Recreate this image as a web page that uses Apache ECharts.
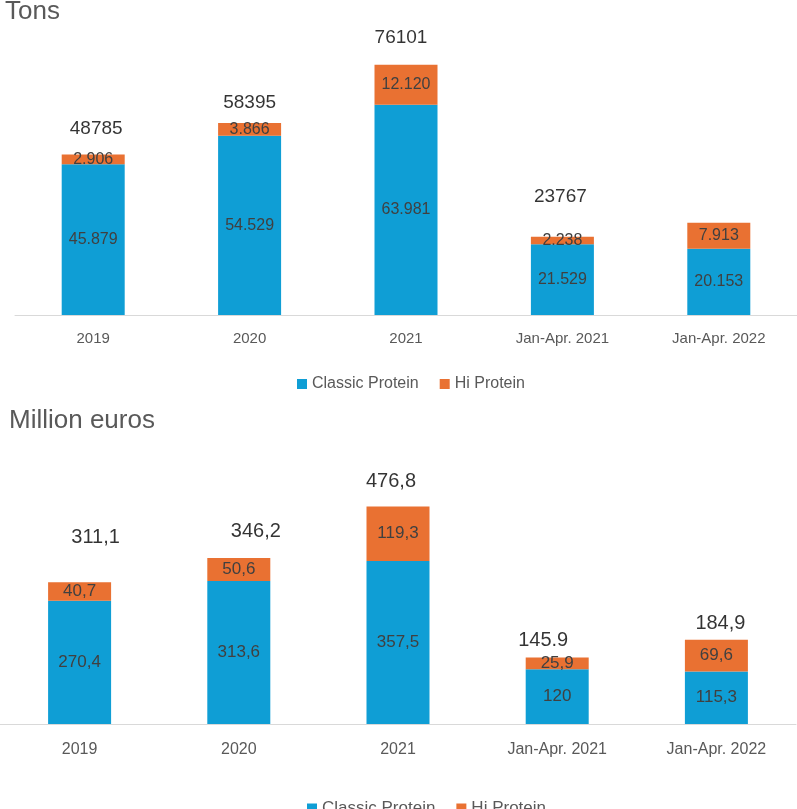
<!DOCTYPE html>
<html><head><meta charset="utf-8">
<script src="https://cdn.jsdelivr.net/npm/echarts@6/dist/echarts.min.js"></script>
<style>html,body{margin:0;padding:0;background:#fff}#c{width:797px;height:809px}</style>
</head><body><div id="c"></div>
<script>
// ---- data ----
const categories = ['2019', '2020', '2021', 'Jan-Apr. 2021', 'Jan-Apr. 2022'];
const seriesNames = ['Classic Protein', 'Hi Protein'];
const tonsClassic = [45879, 54529, 63981, 21529, 20153];
const tonsHi = [2906, 3866, 12120, 2238, 7913];
const tonsTotalLabels = ['48785', '58395', '76101', '23767', ''];
const eurosClassic = [270.4, 313.6, 357.5, 120, 115.3];
const eurosHi = [40.7, 50.6, 119.3, 25.9, 69.6];
const eurosTotalLabels = ['311,1', '346,2', '476,8', '145.9', '184,9'];

// ---- style ----
const BLUE = '#0F9ED5', ORANGE = '#E97132';
const FONT = '"Liberation Sans", Arial, sans-serif';
const tonsTotalOffsets = [[3, -26], [0, -20], [-5, -27], [-2, -40], [0, 0]];
const eurosTotalOffsets = [[16, -45], [17, -26], [-7, -25], [-14, -17], [4, -16]];

function fmtTons(v) { return String(v).replace(/\B(?=(\d{3})+(?!\d))/g, '.'); }
function fmtEuros(v) { return String(v).replace('.', ','); }

function barSeries(name, data, idx, fmt, fs) {
  return {
    type: 'bar', name: name, data: data, stack: 's' + idx,
    xAxisIndex: idx, yAxisIndex: idx, barWidth: 63,
    itemStyle: { color: name === seriesNames[0] ? BLUE : ORANGE },
    label: { show: true, position: 'inside', color: '#404040', fontSize: fs, fontFamily: FONT,
      formatter: p => fmt(p.value) },
    emphasis: { disabled: true }
  };
}
function totalSeries(a, b, labels, offsets, idx, fs) {
  return {
    type: 'scatter', xAxisIndex: idx, yAxisIndex: idx, symbolSize: 0, silent: true,
    data: a.map((v, i) => ({
      value: v + b[i],
      label: { show: labels[i] !== '', formatter: labels[i], offset: offsets[i] }
    })),
    label: { position: 'inside', color: '#000', fontSize: fs, fontFamily: FONT },
    emphasis: { disabled: true }
  };
}
const axisLabel = fs => ({ color: '#595959', fontSize: fs, fontFamily: FONT });

const option = {
  animation: false,
  title: [
    { text: 'Tons', left: 0, top: -6, textStyle: { color: '#595959', fontSize: 26, fontWeight: 'normal', fontFamily: FONT } },
    { text: 'Million euros', left: 4, top: 403, textStyle: { color: '#595959', fontSize: 26, fontWeight: 'normal', fontFamily: FONT } }
  ],
  legend: [
    { data: seriesNames, left: 292, top: 371, icon: 'rect', itemWidth: 10, itemHeight: 10, itemGap: 21,
      textStyle: { color: '#595959', fontSize: 16, fontFamily: FONT } },
    { data: seriesNames, left: 302, top: 795, icon: 'rect', itemWidth: 10, itemHeight: 10, itemGap: 21,
      textStyle: { color: '#595959', fontSize: 17, fontFamily: FONT } }
  ],
  grid: [
    { left: 15, width: 782, top: 52, height: 263 },
    { left: -2, width: 798, top: 496, height: 228 }
  ],
  xAxis: [
    { type: 'category', gridIndex: 0, data: categories, axisTick: { show: false },
      axisLine: { lineStyle: { color: '#d9d9d9', width: 1 } }, axisLabel: Object.assign(axisLabel(15), { margin: 16 }) },
    { type: 'category', gridIndex: 1, data: categories, axisTick: { show: false },
      axisLine: { lineStyle: { color: '#d9d9d9', width: 1 } }, axisLabel: Object.assign(axisLabel(16), { margin: 18 }) }
  ],
  yAxis: [
    { type: 'value', gridIndex: 0, min: 0, max: 80000, show: false, splitLine: { show: false } },
    { type: 'value', gridIndex: 1, min: 0, max: 500, show: false, splitLine: { show: false } }
  ],
  series: [
    barSeries(seriesNames[0], tonsClassic, 0, fmtTons, 16),
    barSeries(seriesNames[1], tonsHi, 0, fmtTons, 16),
    totalSeries(tonsClassic, tonsHi, tonsTotalLabels, tonsTotalOffsets, 0, 19),
    barSeries(seriesNames[0], eurosClassic, 1, fmtEuros, 17),
    barSeries(seriesNames[1], eurosHi, 1, fmtEuros, 17),
    totalSeries(eurosClassic, eurosHi, eurosTotalLabels, eurosTotalOffsets, 1, 20)
  ]
};
const chart = echarts.init(document.getElementById('c'), null, { renderer: 'canvas' });
chart.setOption(option);
</script>
</body></html>
